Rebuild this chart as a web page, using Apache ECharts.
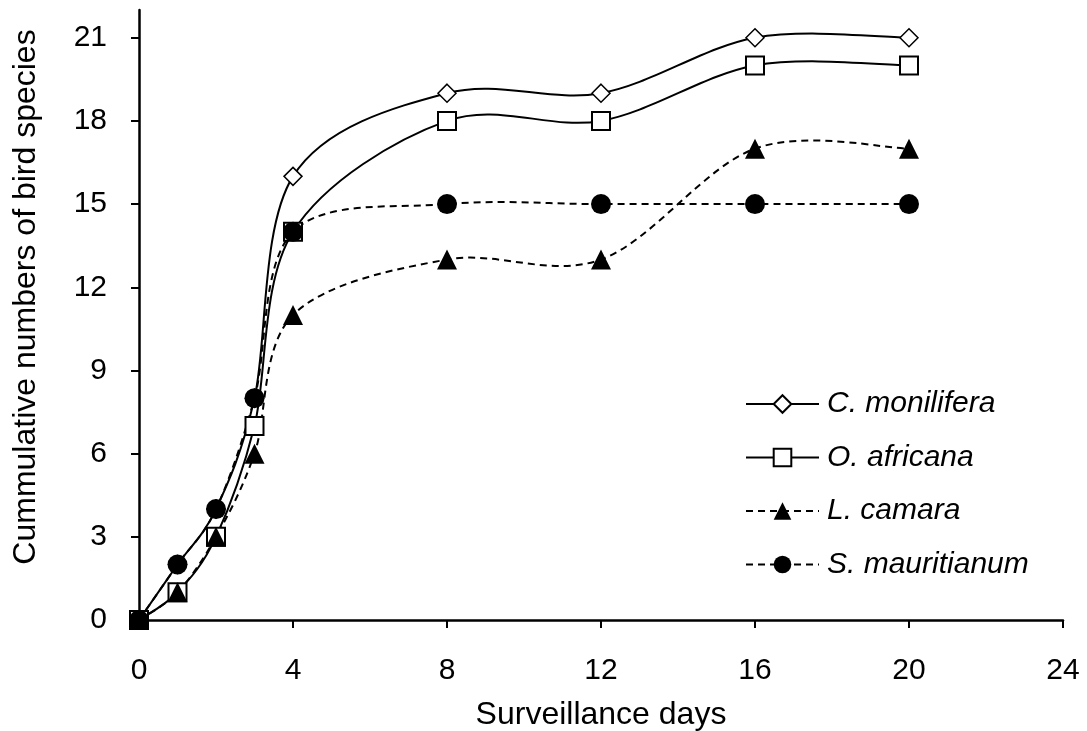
<!DOCTYPE html>
<html>
<head>
<meta charset="utf-8">
<script src="https://cdn.jsdelivr.net/npm/echarts@6/dist/echarts.min.js"></script>
<style>
  html, body { margin: 0; padding: 0; background: #fff; }
  #chart { width: 1087px; height: 731px; }
</style>
</head>
<body>
<div id="chart"></div>
<script>
// Surveillance days on which counts were taken
const days = [0, 1, 2, 3, 4, 8, 12, 16, 20];

// Cumulative number of bird species recorded per plant species
const cMonilifera   = [0, 2, 4, 8, 16, 19, 19, 21, 21];
const oAfricana     = [0, 1, 3, 7, 14, 18, 18, 20, 20];
const lCamara       = [0, 1, 3, 6, 11, 13, 13, 17, 17];
const sMauritianum  = [0, 2, 4, 8, 14, 15, 15, 15, 15];

const seriesNames = ['C. monilifera', 'O. africana', 'L. camara', 'S. mauritianum'];

// Tick values
const xTicks = [0, 4, 8, 12, 16, 20, 24];
const yTicks = [0, 3, 6, 9, 12, 15, 18, 21];

const FONT = "'Liberation Sans', Arial, sans-serif";
const pairs = (ys) => days.map((d, i) => [d, ys[i]]);

const SOLID = { color: '#000', width: 2, type: 'solid', opacity: 1 };
const DASHED = { color: '#000', width: 2, type: [7, 5], opacity: 1 };

const styles = [
  { line: SOLID,  symbol: 'diamond',  size: 18, item: { color: '#fff', borderColor: '#000', borderWidth: 1.5 } },
  { line: SOLID,  symbol: 'rect',     size: 18, item: { color: '#fff', borderColor: '#000', borderWidth: 2 } },
  { line: DASHED, symbol: 'triangle', size: 20, item: { color: '#000', borderColor: '#000', borderWidth: 0 } },
  { line: DASHED, symbol: 'circle',   size: 20, item: { color: '#000', borderColor: '#000', borderWidth: 0 } }
];
const values = [cMonilifera, oAfricana, lCamara, sMauritianum];

// Smoothed curve through the data points (cardinal spline in pixel space,
// tangent = (next - prev) / 6), drawn once per series.
function curveRenderer(lineStyle) {
  return function (params, api) {
    if (params.dataIndex !== 0) return null;
    const pts = [];
    for (let i = 0; i < days.length; i++) {
      pts.push(api.coord([api.value(0, i), api.value(1, i)]));
    }
    let d = 'M' + pts[0][0] + ' ' + pts[0][1];
    for (let i = 0; i < pts.length - 1; i++) {
      const p0 = pts[Math.max(i - 1, 0)];
      const p1 = pts[i];
      const p2 = pts[i + 1];
      const p3 = pts[Math.min(i + 2, pts.length - 1)];
      const c1x = p1[0] + (p2[0] - p0[0]) / 6;
      const c1y = p1[1] + (p2[1] - p0[1]) / 6;
      const c2x = p2[0] - (p3[0] - p1[0]) / 6;
      const c2y = p2[1] - (p3[1] - p1[1]) / 6;
      d += ' C' + c1x + ' ' + c1y + ' ' + c2x + ' ' + c2y + ' ' + p2[0] + ' ' + p2[1];
    }
    return {
      type: 'path',
      shape: { pathData: d },
      style: {
        fill: null,
        stroke: lineStyle.color,
        lineWidth: lineStyle.width,
        lineDash: Array.isArray(lineStyle.type) ? lineStyle.type : null
      }
    };
  };
}

// Marker series (also supply the legend icons)
const markerSeries = seriesNames.map((name, k) => ({
  name: name,
  type: 'line',
  z: 3,
  data: pairs(values[k]),
  clip: false,
  symbol: styles[k].symbol,
  symbolSize: styles[k].size,
  lineStyle: Object.assign({}, styles[k].line, { opacity: 0 }),
  itemStyle: styles[k].item
}));

// Curve series
const curveSeries = seriesNames.map((name, k) => ({
  name: name,
  type: 'custom',
  z: 2,
  clip: false,
  data: pairs(values[k]),
  renderItem: curveRenderer(styles[k].line)
}));

const chart = echarts.init(document.getElementById('chart'), null, { renderer: 'canvas' });

chart.setOption({
  backgroundColor: '#fff',
  animation: false,
  grid: { left: 139, right: 24, top: 10, bottom: 111, containLabel: false, outerBoundsMode: 'none' },
  xAxis: {
    type: 'value',
    min: 0,
    max: 24,
    interval: 4,
    name: 'Surveillance days',
    nameLocation: 'middle',
    nameGap: 79,
    nameTextStyle: { fontFamily: FONT, fontSize: 32, color: '#000' },
    axisLine: { onZero: false, lineStyle: { color: '#000', width: 2.5 } },
    axisTick: { show: true, inside: false, length: 8, lineStyle: { color: '#000', width: 2 }, customValues: xTicks },
    axisLabel: { margin: 36, fontFamily: FONT, fontSize: 30, color: '#000', customValues: xTicks },
    splitLine: { show: false }
  },
  yAxis: {
    type: 'value',
    min: 0,
    max: 22,
    interval: 3,
    name: 'Cummulative numbers of bird species',
    nameLocation: 'middle',
    nameGap: 97,
    nameTextStyle: { fontFamily: FONT, fontSize: 32, color: '#000', padding: [0, 0, 0, 36] },
    axisLine: { onZero: false, lineStyle: { color: '#000', width: 2.5 } },
    axisTick: { show: true, inside: false, length: 8, lineStyle: { color: '#000', width: 2 }, customValues: yTicks },
    axisLabel: { margin: 32, fontFamily: FONT, fontSize: 30, color: '#000', customValues: yTicks },
    splitLine: { show: false }
  },
  legend: {
    orient: 'vertical',
    left: 745,
    top: 388,
    padding: 0,
    itemWidth: 73,
    itemHeight: 22,
    itemGap: 21.5,
    data: seriesNames.map((name, k) => ({ name: name, lineStyle: styles[k].line })),
    textStyle: {
      fontFamily: FONT,
      fontSize: 30,
      fontStyle: 'italic',
      color: '#000',
      lineHeight: 32,
      padding: [0, 0, 0, 3]
    }
  },
  series: markerSeries.concat(curveSeries)
});
</script>
</body>
</html>
